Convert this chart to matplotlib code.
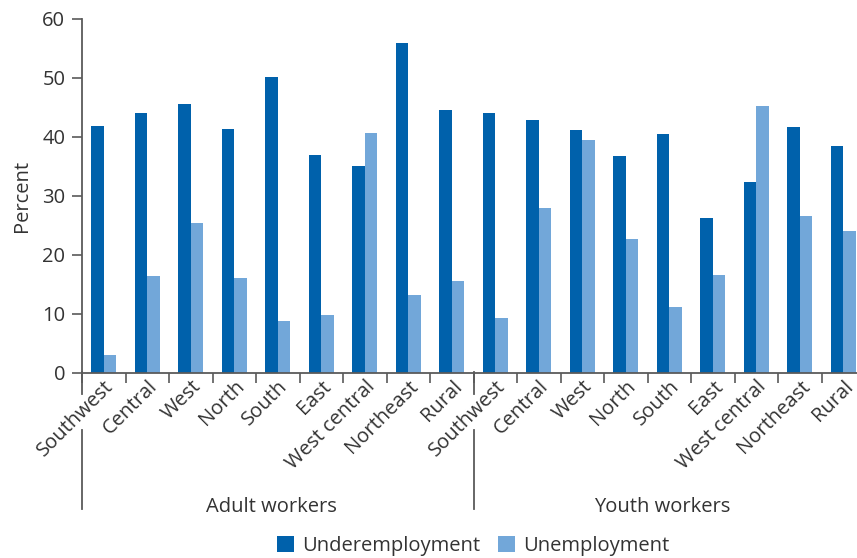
import matplotlib.pyplot as plt
import matplotlib.transforms as mtrans
import numpy as np

plt.rcParams['font.family'] = ['Open Sans', 'DejaVu Sans']

regions = ['Southwest', 'Central', 'West', 'North', 'South', 'East',
           'West central', 'Northeast', 'Rural']
categories = regions + regions
groups = ['Adult workers', 'Youth workers']
underemployment = [41.8, 44.1, 45.6, 41.4, 50.1, 37.0, 35.1, 56.0, 44.5,
                   44.0, 42.8, 41.1, 36.8, 40.4, 26.3, 32.4, 41.6, 38.4]
unemployment = [3.0, 16.3, 25.3, 16.0, 8.8, 9.7, 40.6, 13.1, 15.6,
                9.2, 28.0, 39.4, 22.7, 11.2, 16.5, 45.3, 26.5, 24.1]

dark = '#0061AB'
light = '#72A7D9'
txt = '#333333'
axcol = '#5a5a5a'
fs = 14.5

W, H = 857, 558
fig = plt.figure(figsize=(W / 100, H / 100), dpi=100)
ax = fig.add_axes([82 / W, 1 - 372.5 / H, 783 / W, 353.5 / H])

x = np.arange(len(categories))
bw = 0.29
ax.bar(x - bw / 2, underemployment, bw, color=dark, label='Underemployment')
ax.bar(x + bw / 2, unemployment, bw, color=light, label='Unemployment')

ax.set_xlim(-0.5, len(categories) - 0.5)
ax.set_ylim(0, 60)
ax.set_yticks(range(0, 61, 10))
ax.tick_params(axis='y', labelsize=fs, colors=axcol, labelcolor=txt,
               length=7, width=1.2, pad=5)
ax.set_ylabel('Percent', fontsize=fs, color=txt, labelpad=7)

# boundary ticks as major, labels on minor ticks at centres
ax.set_xticks(np.arange(-0.5, len(categories), 1.0))
ax.set_xticklabels([])
ax.set_xticks(x, minor=True)
ax.set_xticklabels(categories, minor=True, rotation=45, ha='right', va='top',
                   rotation_mode='anchor', fontsize=fs, color=txt)
ax.tick_params(axis='x', which='major', length=7, width=1.2, colors=axcol)
ax.tick_params(axis='x', which='minor', length=0, pad=3)

for s in ['top', 'right']:
    ax.spines[s].set_visible(False)
for s in ['left', 'bottom']:
    ax.spines[s].set_color(axcol)
    ax.spines[s].set_linewidth(1.3)

# group separators and group labels
tr = mtrans.blended_transform_factory(ax.transData, fig.transFigure)
for b in [-0.5, 8.5]:
    ax.plot([b, b], [1 - 372 / H, 1 - 394 / H], color=axcol, lw=1.3,
            transform=tr, clip_on=False)
    ax.plot([b, b], [1 - 430 / H, 1 - 509 / H], color=axcol, lw=1.3,
            transform=tr, clip_on=False)
for i, g in enumerate(groups):
    ax.text(4 + 9 * i - 0.15, 1 - 507 / H, g, transform=tr, ha='center',
            va='center', fontsize=fs, color=txt)

fig.legend(loc='center', bbox_to_anchor=(473 / W, 1 - 546 / H), ncol=2,
           frameon=False, fontsize=fs, handlelength=0.85, handleheight=0.85,
           handletextpad=0.4, columnspacing=0.9, labelcolor=txt)

fig.savefig('out.png', dpi=100)
